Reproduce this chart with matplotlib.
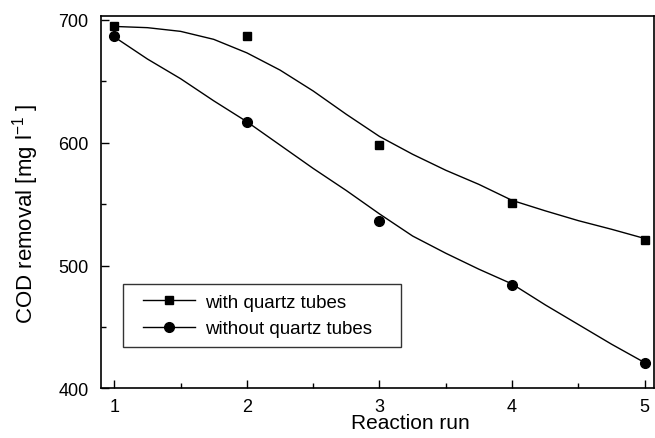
import matplotlib
matplotlib.use("Agg")
import matplotlib.pyplot as plt
from matplotlib.ticker import MultipleLocator
from matplotlib.legend_handler import HandlerLine2D

plt.rcParams['font.family'] = ['Liberation Sans', 'DejaVu Sans']
plt.rcParams['mathtext.default'] = 'regular'

# measured COD removal per reaction run
runs = [1, 2, 3, 4, 5]
with_quartz = [694.5, 686.5, 598, 550.5, 521]
without_quartz = [686.5, 616.5, 536.5, 484, 421]

# fitted trend curves
fit_x = [1.0, 1.25, 1.5, 1.75, 2.0, 2.25, 2.5, 2.75, 3.0,
         3.25, 3.5, 3.75, 4.0, 4.25, 4.5, 4.75, 5.0]
fit_with = [694.5, 693.5, 690.5, 684, 673, 659, 642, 623, 605,
            590.5, 577.5, 566, 553, 544.5, 536.5, 529.5, 522]
fit_without = [686, 668, 652, 634, 617, 598, 579, 561, 542,
               524, 510, 497, 485, 468, 452, 436, 421]

fig = plt.figure(figsize=(6.55, 4.39), dpi=100)
ax = fig.add_axes([0.1542, 0.1128, 0.8443, 0.8485])

ax.plot(fit_x, fit_with, color='k', lw=1.0)
ax.plot(fit_x, fit_without, color='k', lw=1.0)
ax.plot(runs, with_quartz, 's', color='k', ms=6, ls='none')
ax.plot(runs, without_quartz, 'o', color='k', ms=7, ls='none')

# legend handles: line through marker, indented a little from the frame
ax.plot([], [], '-s', color='k', ms=6, lw=1.0, label='with quartz tubes')
ax.plot([], [], '-o', color='k', ms=7, lw=1.0, label='without quartz tubes')
leg = ax.legend(loc='lower left', bbox_to_anchor=(0.04, 0.112, 0.503, 0.171),
                mode='expand', borderaxespad=0, fontsize=13.5, frameon=True,
                fancybox=False, handlelength=3.34, handletextpad=0.53,
                labelspacing=0.5, borderpad=0.5,
                handler_map={plt.Line2D: HandlerLine2D(xpad=0.57)})
leg.get_frame().set_edgecolor('k')
leg.get_frame().set_linewidth(1.0)

ax.set_xlim(0.9, 5.07)
ax.set_ylim(400, 703)
ax.xaxis.set_major_locator(MultipleLocator(1))
ax.xaxis.set_minor_locator(MultipleLocator(0.5))
ax.yaxis.set_major_locator(MultipleLocator(100))
ax.yaxis.set_minor_locator(MultipleLocator(50))
ax.tick_params(which='both', direction='in', width=1.0, labelsize=13)
ax.tick_params(which='major', length=6)
ax.tick_params(which='minor', length=3.5)
ax.tick_params(axis='y', pad=9)
ax.tick_params(axis='x', pad=6.5)
for s in ax.spines.values():
    s.set_linewidth(1.2)

ax.set_xlabel('Reaction run', fontsize=15)
ax.xaxis.set_label_coords(0.56, -0.066)
ax.set_ylabel('COD removal [mg l$^{-1}$ ]', fontsize=16)
ax.yaxis.set_label_coords(-0.108, 0.471)

fig.savefig('out.png', dpi=100)
